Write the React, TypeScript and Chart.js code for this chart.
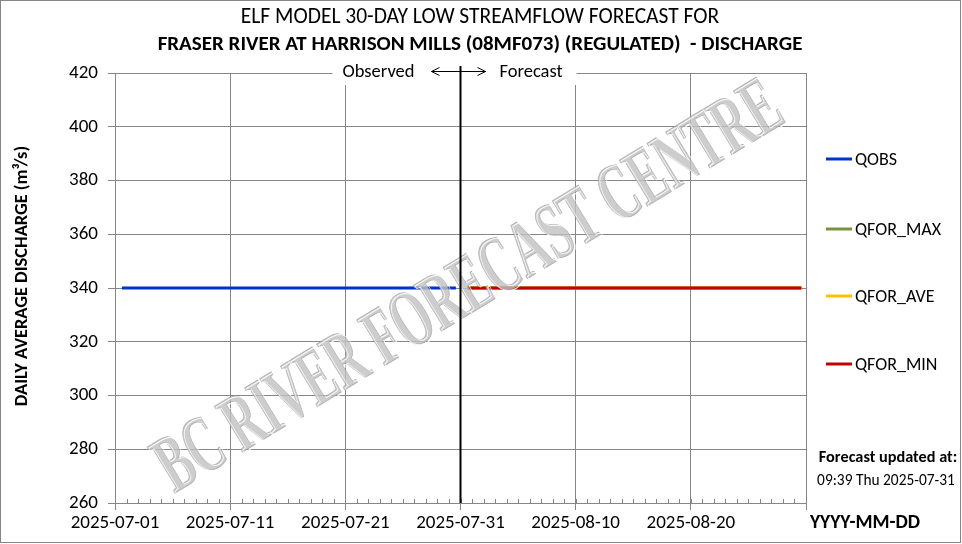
import React, { useEffect, useRef } from "react";
import { Chart, registerables } from "chart.js";

Chart.register(...registerables);

const TITLE_LINE_1 = "ELF MODEL 30-DAY LOW STREAMFLOW FORECAST FOR";
const TITLE_LINE_2 = "FRASER RIVER AT HARRISON MILLS (08MF073) (REGULATED)  - DISCHARGE";
const Y_TITLE = "DAILY AVERAGE DISCHARGE (m³/s)";
const X_TITLE = "YYYY-MM-DD";
const UPDATED_1 = "Forecast updated at:";
const UPDATED_2 = "09:39 Thu 2025-07-31";
const WATERMARK = "BC RIVER FORECAST CENTRE";

const AXIS_START = "2025-07-01";
const AXIS_END = "2025-08-30";
const FORECAST_START = "2025-07-31";
const X_TICK_LABELS = ["2025-07-01", "2025-07-11", "2025-07-21", "2025-07-31", "2025-08-10", "2025-08-20", ""];
const Y_MIN = 260;
const Y_MAX = 420;
const Y_STEP = 20;

const OBS_DATES = [
  "2025-07-01", "2025-07-02", "2025-07-03", "2025-07-04", "2025-07-05", "2025-07-06",
  "2025-07-07", "2025-07-08", "2025-07-09", "2025-07-10", "2025-07-11", "2025-07-12",
  "2025-07-13", "2025-07-14", "2025-07-15", "2025-07-16", "2025-07-17", "2025-07-18",
  "2025-07-19", "2025-07-20", "2025-07-21", "2025-07-22", "2025-07-23", "2025-07-24",
  "2025-07-25", "2025-07-26", "2025-07-27", "2025-07-28", "2025-07-29", "2025-07-30",
];
const QOBS = [
  340, 340, 340, 340, 340, 340, 340, 340, 340, 340, 340, 340, 340, 340, 340,
  340, 340, 340, 340, 340, 340, 340, 340, 340, 340, 340, 340, 340, 340, 340,
];

const FOR_DATES = [
  "2025-07-31", "2025-08-01", "2025-08-02", "2025-08-03", "2025-08-04", "2025-08-05",
  "2025-08-06", "2025-08-07", "2025-08-08", "2025-08-09", "2025-08-10", "2025-08-11",
  "2025-08-12", "2025-08-13", "2025-08-14", "2025-08-15", "2025-08-16", "2025-08-17",
  "2025-08-18", "2025-08-19", "2025-08-20", "2025-08-21", "2025-08-22", "2025-08-23",
  "2025-08-24", "2025-08-25", "2025-08-26", "2025-08-27", "2025-08-28", "2025-08-29",
];
const QFOR_MAX = [
  340, 340, 340, 340, 340, 340, 340, 340, 340, 340, 340, 340, 340, 340, 340,
  340, 340, 340, 340, 340, 340, 340, 340, 340, 340, 340, 340, 340, 340, 340,
];
const QFOR_AVE = [
  340, 340, 340, 340, 340, 340, 340, 340, 340, 340, 340, 340, 340, 340, 340,
  340, 340, 340, 340, 340, 340, 340, 340, 340, 340, 340, 340, 340, 340, 340,
];
const QFOR_MIN = [
  340, 340, 340, 340, 340, 340, 340, 340, 340, 340, 340, 340, 340, 340, 340,
  340, 340, 340, 340, 340, 340, 340, 340, 340, 340, 340, 340, 340, 340, 340,
];

const SERIES_NAMES = ["QOBS", "QFOR_MAX", "QFOR_AVE", "QFOR_MIN"];
const SERIES_COLORS = ["#0033CC", "#77933C", "#FFC000", "#C00000"];
// lower order is drawn on top
const SERIES_ORDER = [3, 2, 1, 0];

const FONT = "Carlito, Lato, 'Open Sans', sans-serif";
const GRID = "#868686";

const DAY = 86400000;
const dayOf = (d: string) => (Date.parse(d + "T00:00:00Z") - Date.parse(AXIS_START + "T00:00:00Z")) / DAY;
// daily averages plotted near midday
const pts = (dates: string[], vals: number[]) => dates.map((d, i) => ({ x: dayOf(d) + 0.6, y: vals[i] }));

const overlay = {
  id: "overlay",
  afterDatasetsDraw(chart: any) {
    const { ctx } = chart;
    // watermark
    ctx.save();
    ctx.translate(470, 289);
    ctx.rotate(-Math.atan2(380, 625));
    ctx.font = "bold 82px 'Liberation Serif', serif";
    const w = ctx.measureText(WATERMARK).width;
    ctx.scale(718 / w, 1);
    ctx.textAlign = "center";
    ctx.textBaseline = "middle";
    ctx.fillStyle = "rgba(192,192,192,0.8)";
    ctx.fillText(WATERMARK, 0, 0);
    ctx.strokeStyle = "rgba(160,160,160,0.7)";
    ctx.lineWidth = 1;
    ctx.strokeText(WATERMARK, 0, 0);
    ctx.strokeStyle = "rgba(255,255,255,0.9)";
    ctx.strokeText(WATERMARK, 2, 1.5);
    ctx.restore();
  },
  afterDraw(chart: any) {
    const { ctx, chartArea: a, scales } = chart;
    const xs = scales.x;
    ctx.save();
    // minor day ticks
    ctx.strokeStyle = GRID;
    ctx.lineWidth = 1;
    for (let d = xs.min; d <= xs.max; d++) {
      const x = Math.round(xs.getPixelForValue(d)) + 0.5;
      ctx.beginPath();
      ctx.moveTo(x, a.bottom);
      ctx.lineTo(x, a.bottom - 4);
      ctx.stroke();
    }
    // Observed / Forecast label box
    const fx = xs.getPixelForValue(dayOf(FORECAST_START));
    ctx.fillStyle = "#fff";
    ctx.fillRect(fx - 128, a.top - 12, 244, 24);
    ctx.fillStyle = "#000";
    ctx.font = `18.5px ${FONT}`;
    ctx.textBaseline = "middle";
    ctx.textAlign = "right";
    ctx.fillText("Observed", fx - 46, a.top - 1);
    ctx.textAlign = "left";
    ctx.fillText("Forecast", fx + 39, a.top - 1);
    // arrow
    ctx.strokeStyle = "#000";
    ctx.lineWidth = 1;
    const ay = a.top - 1.5;
    ctx.beginPath();
    ctx.moveTo(fx - 29, ay);
    ctx.lineTo(fx + 25, ay);
    ctx.moveTo(fx - 21, ay - 4);
    ctx.lineTo(fx - 29, ay);
    ctx.lineTo(fx - 21, ay + 4);
    ctx.moveTo(fx + 17, ay - 4);
    ctx.lineTo(fx + 25, ay);
    ctx.lineTo(fx + 17, ay + 4);
    ctx.stroke();
    // forecast divider
    ctx.lineWidth = 2;
    ctx.beginPath();
    ctx.moveTo(fx, a.top - 7);
    ctx.lineTo(fx, a.bottom);
    ctx.stroke();

    // titles
    ctx.fillStyle = "#000";
    ctx.textAlign = "center";
    ctx.textBaseline = "middle";
    ctx.font = `21.5px ${FONT}`;
    ctx.fillText(TITLE_LINE_1, 480, 18);
    ctx.font = `bold 21px ${FONT}`;
    ctx.fillText(TITLE_LINE_2, 480, 45);

    // y title
    ctx.save();
    ctx.translate(22, 276);
    ctx.rotate(-Math.PI / 2);
    ctx.font = `bold 18.4px ${FONT}`;
    ctx.fillText(Y_TITLE, 0, 0);
    ctx.restore();

    // x title
    ctx.font = `bold 19.5px ${FONT}`;
    ctx.fillText(X_TITLE, 865, 523);

    // updated
    ctx.font = `bold 16.3px ${FONT}`;
    ctx.fillText(UPDATED_1, 888, 458);
    ctx.font = `15.4px ${FONT}`;
    ctx.fillText(UPDATED_2, 886, 481);

    // legend
    const ly = [159, 229, 296, 364];
    ctx.textAlign = "left";
    ctx.font = `18px ${FONT}`;
    SERIES_NAMES.forEach((n, i) => {
      ctx.strokeStyle = SERIES_COLORS[i];
      ctx.lineWidth = 3;
      ctx.beginPath();
      ctx.moveTo(826, ly[i]);
      ctx.lineTo(852, ly[i]);
      ctx.stroke();
      ctx.fillStyle = "#000";
      ctx.fillText(n, 855, ly[i] + 1);
    });

    // outer border
    ctx.strokeStyle = GRID;
    ctx.lineWidth = 1;
    ctx.strokeRect(0.5, 0.5, 960, 542);
    ctx.restore();
  },
};

export default function App() {
  const ref = useRef<HTMLCanvasElement>(null);
  useEffect(() => {
    document.body.style.margin = "0";
    const mk = (i: number, data: any[]) => ({
      label: SERIES_NAMES[i],
      data,
      order: SERIES_ORDER[i],
      borderColor: SERIES_COLORS[i],
      backgroundColor: SERIES_COLORS[i],
      borderWidth: 3,
      pointRadius: 0,
      tension: 0,
      fill: false,
    });
    const chart = new Chart(ref.current!, {
      type: "line",
      data: {
        datasets: [
          mk(0, pts(OBS_DATES, QOBS)),
          mk(1, pts(FOR_DATES, QFOR_MAX)),
          mk(2, pts(FOR_DATES, QFOR_AVE)),
          mk(3, pts(FOR_DATES, QFOR_MIN)),
        ],
      },
      options: {
        animation: false,
        responsive: false,
        maintainAspectRatio: false,
        layout: { padding: { left: 0, top: 73, right: 156, bottom: 0 } },
        plugins: { legend: { display: false }, title: { display: false }, tooltip: { enabled: false } },
        scales: {
          x: {
            type: "linear",
            min: dayOf(AXIS_START),
            max: dayOf(AXIS_END),
            afterBuildTicks: (s: any) => {
              s.ticks = X_TICK_LABELS.map((_, i) => ({ value: dayOf(AXIS_START) + i * 10 }));
            },
            afterFit: (s: any) => { s.height = 41; },
            ticks: {
              autoSkip: false,
              maxRotation: 0,
              minRotation: 0,
              padding: 2,
              color: "#000",
              font: { family: FONT, size: 19 },
              callback: (_v: any, i: number) => X_TICK_LABELS[i],
            },
            grid: { color: GRID, lineWidth: 1, tickLength: 7 },
            border: { color: GRID },
          },
          y: {
            min: Y_MIN,
            max: Y_MAX,
            afterFit: (s: any) => { s.width = 115; },
            ticks: {
              stepSize: Y_STEP,
              padding: 10,
              color: "#000",
              font: { family: FONT, size: 19 },
            },
            grid: { color: GRID, lineWidth: 1, tickLength: 7 },
            border: { color: GRID },
          },
        },
      },
      plugins: [overlay],
    });
    return () => chart.destroy();
  }, []);
  return (
    <div style={{ width: 962, height: 544 }}>
      <canvas ref={ref} width={962} height={544} style={{ display: "block" }} />
    </div>
  );
}
